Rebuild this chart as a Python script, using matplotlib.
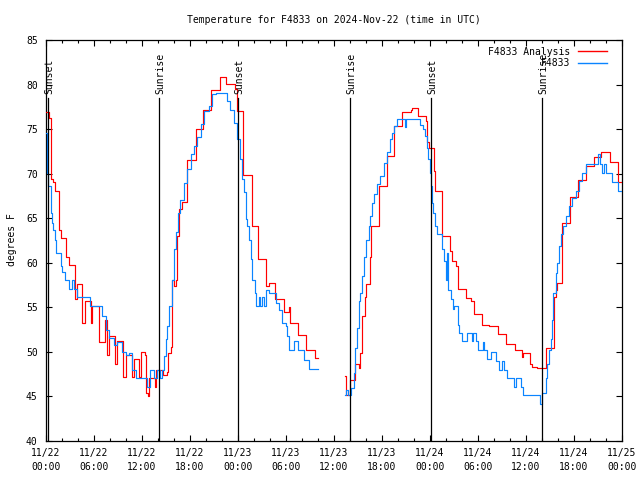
import numpy as np
import matplotlib
matplotlib.use("Agg")
import matplotlib.pyplot as plt
from matplotlib.lines import Line2D
import matplotlib.transforms as mtransforms

# ---------------- data (hours since 11/22 00:00 UTC, degrees F) ----------------
title = "Temperature for F4833 on 2024-Nov-22 (time in UTC)"
ylabel = "degrees F"
series_names = ["F4833 Analysis", "F4833"]

analysis_hours_1 = [0.0, 0.375, 0.6, 0.875, 1.1, 1.64, 1.9, 2.46, 2.9, 3.6,
                    3.9, 4.54, 4.84, 5.58, 5.8, 6.6, 7.4, 7.66, 7.9, 8.6,
                    8.9, 9.6, 9.96, 10.8, 11.0, 11.6, 11.9, 12.4, 12.54, 12.8,
                    12.9, 13.6, 13.8, 14.6, 15.1, 15.25, 15.6, 15.7, 16.0, 16.3,
                    16.4, 16.66, 17.0, 17.6, 18.7, 19.625, 20.58, 21.7, 22.46, 23.58,
                    23.84, 24.6, 25.7, 26.5, 27.5, 27.9, 28.6, 29.75, 30.4, 30.5,
                    31.54, 32.5, 33.6, 33.9]
analysis_temps_1 = [76.9, 76.2, 69.4, 69.1, 68.0, 63.7, 62.8, 60.6, 59.7, 55.9,
                    57.6, 53.2, 55.7, 53.2, 55.1, 51.1, 53.6, 49.6, 51.8, 48.6,
                    51.2, 47.2, 49.7, 47.2, 49.2, 47.2, 50.0, 49.6, 45.4, 45.0,
                    47.1, 46.1, 48.0, 47.4, 47.7, 49.9, 50.5, 58.1, 57.4, 58.1,
                    63.0, 66.0, 66.8, 71.5, 75.0, 77.1, 79.4, 80.8, 80.1, 79.5,
                    77.0, 69.9, 64.1, 60.4, 57.4, 57.7, 55.9, 54.5, 55.0, 53.2,
                    51.9, 50.2, 49.3, 49.3]

analysis_hours_2 = [37.375, 37.54, 37.96, 38.6, 39.1, 39.3, 39.5, 39.9, 39.96, 40.5,
                    40.6, 41.6, 42.66, 43.5, 44.54, 45.6, 45.7, 46.54, 47.46, 47.66,
                    47.9, 48.5, 48.6, 49.54, 50.46, 50.8, 51.3, 51.46, 52.54, 53.16,
                    53.54, 54.54, 55.4, 56.54, 57.46, 58.6, 59.46, 59.6, 60.46, 60.8,
                    61.4, 62.46, 63.5, 63.7, 63.9, 64.5, 65.46, 66.54, 67.54, 68.5,
                    69.4, 70.46, 71.54, 72.0]
analysis_temps_2 = [47.3, 45.2, 46.9, 48.6, 48.2, 49.9, 54.0, 56.2, 57.6, 60.7,
                    64.1, 68.6, 72.0, 75.4, 76.9, 77.2, 77.4, 76.5, 75.9, 73.5,
                    72.9, 70.3, 68.0, 63.0, 61.3, 60.2, 59.6, 57.1, 56.1, 55.7,
                    54.3, 53.0, 52.9, 52.0, 50.9, 50.2, 49.4, 49.9, 48.6, 48.3,
                    48.2, 50.4, 56.2, 57.0, 57.7, 64.5, 67.4, 69.3, 70.9, 71.9,
                    72.4, 71.3, 69.1, 69.1]

station_hours_1 = [0.0, 0.1, 0.29, 0.59, 0.79, 0.9, 1.1, 1.21, 1.84, 2.04,
                   2.4, 2.9, 3.3, 3.5, 3.9, 5.46, 7.04, 7.46, 7.9, 8.5,
                   8.9, 9.54, 10.04, 10.4, 10.8, 11.2, 12.66, 13.0, 13.5, 13.9,
                   14.3, 14.5, 14.75, 14.96, 15.16, 15.37, 15.7, 16.0, 16.2, 16.5,
                   16.8, 17.25, 17.67, 18.08, 18.5, 18.9, 19.33, 19.75, 20.4, 20.8,
                   21.2, 22.66, 23.04, 23.5, 23.9, 24.3, 24.5, 24.75, 24.96, 25.16,
                   25.4, 25.6, 25.8, 26.1, 26.3, 26.6, 26.8, 27.0, 27.25, 27.46,
                   27.9, 28.7, 29.1, 29.5, 29.96, 30.16, 30.4, 31.0, 31.54, 32.25,
                   32.9, 33.9]
station_temps_1 = [74.6, 70.1, 68.6, 65.6, 64.5, 63.7, 62.6, 61.1, 59.6, 59.0,
                   58.1, 57.1, 58.1, 57.1, 56.2, 55.1, 54.0, 52.5, 51.6, 50.8,
                   51.1, 50.0, 49.6, 49.9, 48.0, 47.1, 46.1, 48.0, 47.1, 48.0,
                   47.1, 48.0, 49.5, 51.4, 52.9, 55.1, 58.1, 61.5, 63.4, 65.6,
                   67.1, 69.0, 70.5, 72.2, 73.1, 74.1, 75.6, 77.0, 77.6, 78.9,
                   79.1, 78.2, 77.2, 75.7, 73.9, 71.6, 69.4, 67.9, 64.9, 64.1,
                   62.6, 60.4, 58.1, 56.6, 55.1, 56.2, 55.1, 56.2, 55.1, 57.0,
                   56.6, 55.5, 54.7, 53.2, 52.9, 51.8, 50.2, 51.2, 50.2, 49.1,
                   48.1, 48.1]

station_hours_2 = [37.4, 37.54, 37.7, 38.1, 38.46, 38.66, 38.9, 39.1, 39.3, 39.5,
                   39.7, 40.04, 40.34, 40.54, 40.75, 41.04, 41.375, 41.8, 42.2, 42.625,
                   42.96, 43.25, 43.46, 43.84, 44.875, 45.04, 46.7, 47.1, 47.375, 47.6,
                   47.8, 47.96, 48.1, 48.2, 48.375, 48.625, 48.9, 49.54, 49.75, 49.96,
                   50.16, 50.3, 50.6, 50.875, 51.0, 51.46, 51.625, 51.96, 52.66, 53.2,
                   53.4, 53.7, 54.04, 54.625, 54.75, 55.16, 55.6, 56.2, 56.6, 57.0,
                   57.25, 57.66, 58.5, 58.8, 59.34, 59.6, 61.7, 61.96, 62.46, 62.66,
                   62.875, 63.1, 63.2, 63.4, 63.7, 63.9, 64.1, 64.34, 64.625, 64.96,
                   65.375, 65.79, 66.2, 66.625, 67.04, 67.46, 69.0, 69.2, 69.54, 69.8,
                   70.0, 70.8, 71.54, 72.0]
station_temps_2 = [45.2, 45.7, 45.2, 46.0, 47.6, 50.4, 52.7, 55.7, 56.6, 58.5,
                   60.7, 62.6, 64.1, 65.2, 66.7, 67.7, 68.8, 69.7, 71.2, 72.4,
                   73.9, 74.6, 75.4, 76.1, 75.2, 76.1, 75.5, 75.0, 74.2, 72.9,
                   71.6, 70.1, 68.6, 66.7, 65.6, 64.1, 63.2, 61.5, 60.2, 58.1,
                   61.1, 57.0, 55.9, 54.8, 55.1, 53.0, 52.1, 51.2, 52.1, 51.2,
                   52.1, 51.2, 50.2, 51.1, 50.2, 49.2, 50.0, 49.0, 48.0, 49.0,
                   48.0, 47.1, 46.1, 47.1, 46.1, 45.2, 44.2, 45.4, 47.1, 48.6,
                   50.2, 51.5, 53.6, 56.6, 58.9, 60.0, 61.9, 63.2, 64.1, 65.2,
                   66.4, 67.3, 68.0, 69.2, 70.1, 71.1, 72.2, 71.1, 70.1, 71.1,
                   70.1, 69.1, 68.1, 68.1]

event_hours = [0.25, 14.125, 24.05, 38.0, 48.1, 62.0]
event_labels = ["Sunset", "Sunrise", "Sunset", "Sunrise", "Sunset", "Sunrise"]

xtick_hours = [0, 6, 12, 18, 24, 30, 36, 42, 48, 54, 60, 66, 72]
xtick_labels = ["11/22\n00:00", "11/22\n06:00", "11/22\n12:00", "11/22\n18:00",
                "11/23\n00:00", "11/23\n06:00", "11/23\n12:00", "11/23\n18:00",
                "11/24\n00:00", "11/24\n06:00", "11/24\n12:00", "11/24\n18:00",
                "11/25\n00:00"]
ytick_values = [40, 45, 50, 55, 60, 65, 70, 75, 80, 85]

# ---------------- plotting ----------------
FONT = "DejaVu Sans Mono"
FS = 7
plt.rcParams["font.family"] = [FONT]
plt.rcParams["font.size"] = FS

W, H = 640, 480
fig = plt.figure(figsize=(W / 100, H / 100), dpi=100)
ax_l, ax_r, ax_t, ax_b = 46, 622, 40, 441
ax = fig.add_axes([ax_l / W, 1 - ax_b / H, (ax_r - ax_l) / W, (ax_b - ax_t) / H])

red = "#ff0000"
blue = "#0a84ff"
LW = 0.85

a_h = analysis_hours_1 + [34.0] + analysis_hours_2
a_t = analysis_temps_1 + [np.nan] + analysis_temps_2
s_h = station_hours_1 + [34.0] + station_hours_2
s_t = station_temps_1 + [np.nan] + station_temps_2

ax.plot(a_h, a_t, drawstyle="steps-post", color=red, lw=LW, zorder=3)
ax.plot(s_h, s_t, drawstyle="steps-post", color=blue, lw=LW, zorder=4)

trans = mtransforms.blended_transform_factory(ax.transData, ax.transAxes)
line_top = (ax_b - 98) / (ax_b - ax_t)
label_bottom = (ax_b - 94) / (ax_b - ax_t)
for xh, lab in zip(event_hours, event_labels):
    ax.plot([xh, xh], [0, line_top], transform=trans, color="black", lw=0.9, zorder=5)
    ax.text(xh + 0.15, label_bottom, lab, transform=trans, rotation=90,
            ha="center", va="bottom", fontsize=FS, family=FONT)

ax.set_xlim(0, 72)
ax.set_ylim(40, 85)
ax.set_xticks(xtick_hours)
ax.set_xticklabels(xtick_labels, linespacing=1.5)
ax.set_xticks(np.arange(0, 73, 2), minor=True)
ax.set_yticks(ytick_values)
ax.tick_params(axis="both", which="major", direction="in", length=4, width=0.8,
               top=True, right=True, labelsize=FS)
ax.tick_params(axis="x", which="minor", direction="in", length=2.2, width=0.8,
               top=True, bottom=True)
ax.tick_params(axis="x", which="major", pad=5)
ax.tick_params(axis="y", which="major", pad=6)
for sp in ax.spines.values():
    sp.set_linewidth(0.9)

fig.text(334 / W, 1 - 20 / H, title, ha="center", va="center", fontsize=FS, family=FONT)
fig.text(12 / W, 1 - 240 / H, ylabel, rotation=90, ha="center", va="center",
         fontsize=FS, family=FONT)

handles = [Line2D([], [], color=red, lw=1.0), Line2D([], [], color=blue, lw=1.0)]
leg = ax.legend(handles, series_names, loc="upper right", frameon=False,
                markerfirst=False, handlelength=3.0, handletextpad=0.8,
                labelspacing=0.12, borderaxespad=0.0,
                bbox_to_anchor=(1 - 11 / (ax_r - ax_l), 1 - 3 / (ax_b - ax_t)),
                prop={"family": FONT, "size": FS})
leg.set_zorder(10)

fig.savefig("out.png", dpi=100)
